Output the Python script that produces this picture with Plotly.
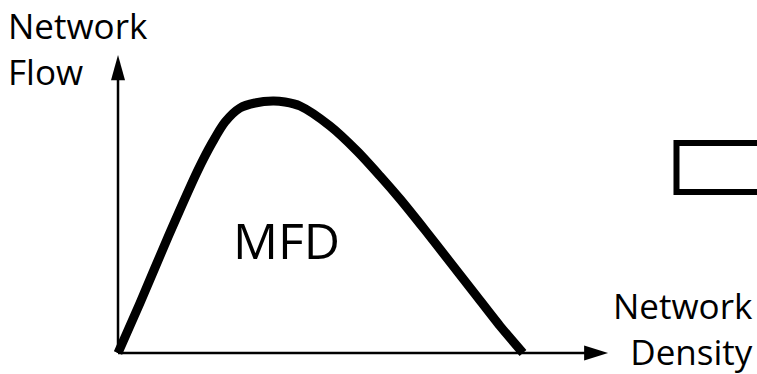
import plotly.graph_objects as go

# ---- data (density, flow) in arbitrary units ----
density = [0, 5.43, 12.35, 19.75, 23.21, 26.42, 30.12, 33.83, 38.27, 41.23, 44.94,
           52.35, 59.01, 64.69, 69.63, 75.80, 81.98, 88.15, 94.32, 100]
flow = [0, 19.84, 46.03, 72.62, 83.33, 91.67, 97.22, 99.21, 100, 99.60, 98.02,
        90.08, 80.16, 70.24, 61.11, 48.81, 36.11, 23.41, 10.71, 0]

x_label = "Network<br>Density"
y_label = "Network<br>Flow"
curve_label = "MFD"

# axis extents (arrow tips) and view ranges
x_tip, y_tip = 121.0, 118.25
x_range = [-29.14, 157.78]
y_range = [-8.33, 140.08]

# arrow-head sizes in data units
xh_len, xh_half = 5.9, 3.0
yh_len, yh_half = 10.0, 1.73

fig = go.Figure()
fig.add_trace(go.Scatter(x=density, y=flow, mode="lines",
                         line=dict(color="black", width=9, shape="spline", smoothing=0.8),
                         hoverinfo="skip", showlegend=False))

shapes = [
    dict(type="line", xref="x", yref="y", x0=0, y0=0, x1=x_tip - xh_len + 1, y1=0,
         line=dict(color="black", width=2.5)),
    dict(type="line", xref="x", yref="y", x0=0, y0=0, x1=0, y1=y_tip - yh_len + 1,
         line=dict(color="black", width=2.5)),
    dict(type="path", xref="x", yref="y",
         path=f"M{x_tip},0 L{x_tip - xh_len},{xh_half} L{x_tip - xh_len},{-xh_half} Z",
         fillcolor="black", line=dict(color="black", width=0)),
    dict(type="path", xref="x", yref="y",
         path=f"M0,{y_tip} L{yh_half},{y_tip - yh_len} L{-yh_half},{y_tip - yh_len} Z",
         fillcolor="black", line=dict(color="black", width=0)),
    dict(type="rect", xref="x", yref="y", x0=137.9, x1=165, y0=63.9, y1=83.33,
         line=dict(color="black", width=6), fillcolor="rgba(0,0,0,0)"),
]

font = "Open Sans, Noto Sans, sans-serif"
annotations = [
    dict(text=y_label, xref="paper", yref="paper", x=0.008, y=1.0, xanchor="left",
         yanchor="top", align="left", showarrow=False,
         font=dict(family=font, size=35, color="black")),
    dict(text=x_label, xref="paper", yref="paper", x=0.997, y=0.0, yshift=-3, xanchor="right",
         yanchor="bottom", align="right", showarrow=False,
         font=dict(family=font, size=35, color="black")),
    dict(text=curve_label, xref="x", yref="y", x=41.5, y=45.0, xanchor="center", yanchor="middle",
         showarrow=False, font=dict(family=font, size=50, color="black")),
]

fig.update_layout(width=757, height=374, margin=dict(l=0, r=0, t=0, b=0),
                  paper_bgcolor="white", plot_bgcolor="white",
                  xaxis=dict(range=x_range, visible=False, fixedrange=True),
                  yaxis=dict(range=y_range, visible=False, fixedrange=True),
                  shapes=shapes, annotations=annotations, showlegend=False)

fig.write_html("out.html", config={"displayModeBar": False},
               post_script="document.body.style.margin='0';document.body.style.overflow='hidden';")
